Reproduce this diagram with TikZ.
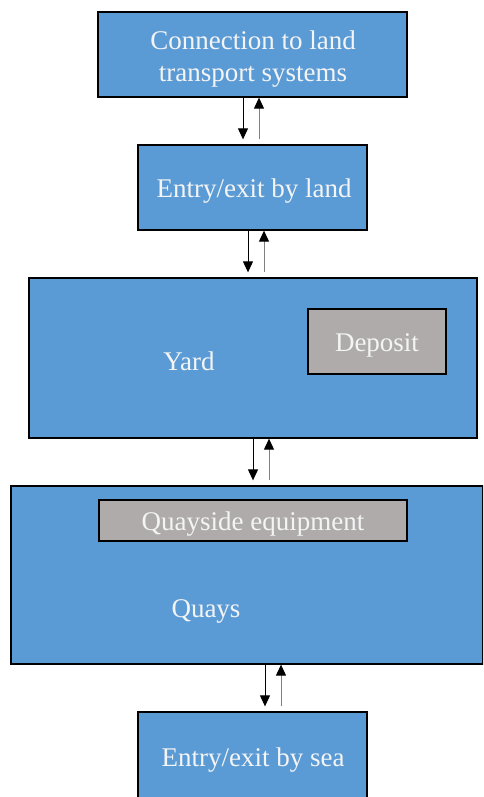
\documentclass[tikz,border=0pt]{standalone}
\usepackage{fontspec}
\setmainfont{Liberation Serif}
\usetikzlibrary{arrows.meta}
\definecolor{boxblue}{HTML}{5B9BD5}
\definecolor{boxgray}{HTML}{AFABAB}
\definecolor{txt}{HTML}{F4F4F4}
\begin{document}
\begin{tikzpicture}[x=1pt,y=-1pt,
  bluebox/.style={draw=black,line width=1.3pt,fill=boxblue},
  graybox/.style={draw=black,line width=1.3pt,fill=boxgray},
  lbl/.style={text=txt,font=\fontsize{27}{32}\selectfont,align=center,inner sep=0pt},
  downarr/.style={draw=black,line width=1pt,-{Triangle[width=10pt,length=11pt]}},
  uparr/.style={draw=gray,line width=1pt,-{Triangle[width=10pt,length=11pt,color=black]}}]
\useasboundingbox (0,0) rectangle (483,797);
\begin{scope}
\clip (0,0) rectangle (483,797);
% boxes
\node[bluebox,minimum width=309pt,minimum height=85pt,inner sep=0pt] (conn) at (252.5,54.5) {};
\node[bluebox,minimum width=229pt,minimum height=85pt,inner sep=0pt] (land) at (252.5,187.5) {};
\node[bluebox,minimum width=448pt,minimum height=160pt,inner sep=0pt] (yard) at (253,358) {};
\node[graybox,minimum width=138pt,minimum height=65pt,inner sep=0pt] (dep) at (377,341.5) {};
\node[bluebox,minimum width=472pt,minimum height=178pt,inner sep=0pt] (quays) at (247,575) {};
\node[graybox,minimum width=308pt,minimum height=41pt,inner sep=0pt] (quip) at (253,520.5) {};
\node[bluebox,minimum width=229pt,minimum height=90pt,inner sep=0pt] (sea) at (252.5,757) {};
% labels
\node[lbl] (connt) at (253,59) {Connection to land\\transport systems};
\node[lbl] (landt) at (254,191) {Entry/exit by land};
\node[lbl] (yardt) at (189,361) {Yard};
\node[lbl] (dept) at (377,345) {Deposit};
\node[lbl] (quipt) at (253,524) {Quayside equipment};
\node[lbl] (quayst) at (206,611) {Quays};
\node[lbl] (seat) at (253,760) {Entry/exit by sea};
% arrows
\draw[downarr] (conn.south -| 243,0) -- ([yshift=5pt]land.north -| 243,0);
\draw[uparr] ([yshift=5pt]land.north -| 259,0) -- (conn.south -| 259,0);
\draw[downarr] (land.south -| 248,0) -- ([yshift=5pt]yard.north -| 248,0);
\draw[uparr] ([yshift=5pt]yard.north -| 264,0) -- (land.south -| 264,0);
\draw[downarr] (yard.south -| 253,0) -- ([yshift=5pt]quays.north -| 253,0);
\draw[uparr] ([yshift=5pt]quays.north -| 269,0) -- (yard.south -| 269,0);
\draw[downarr] (quays.south -| 265,0) -- ([yshift=5pt]sea.north -| 265,0);
\draw[uparr] ([yshift=5pt]sea.north -| 281,0) -- (quays.south -| 281,0);
\end{scope}
\end{tikzpicture}
\end{document}
